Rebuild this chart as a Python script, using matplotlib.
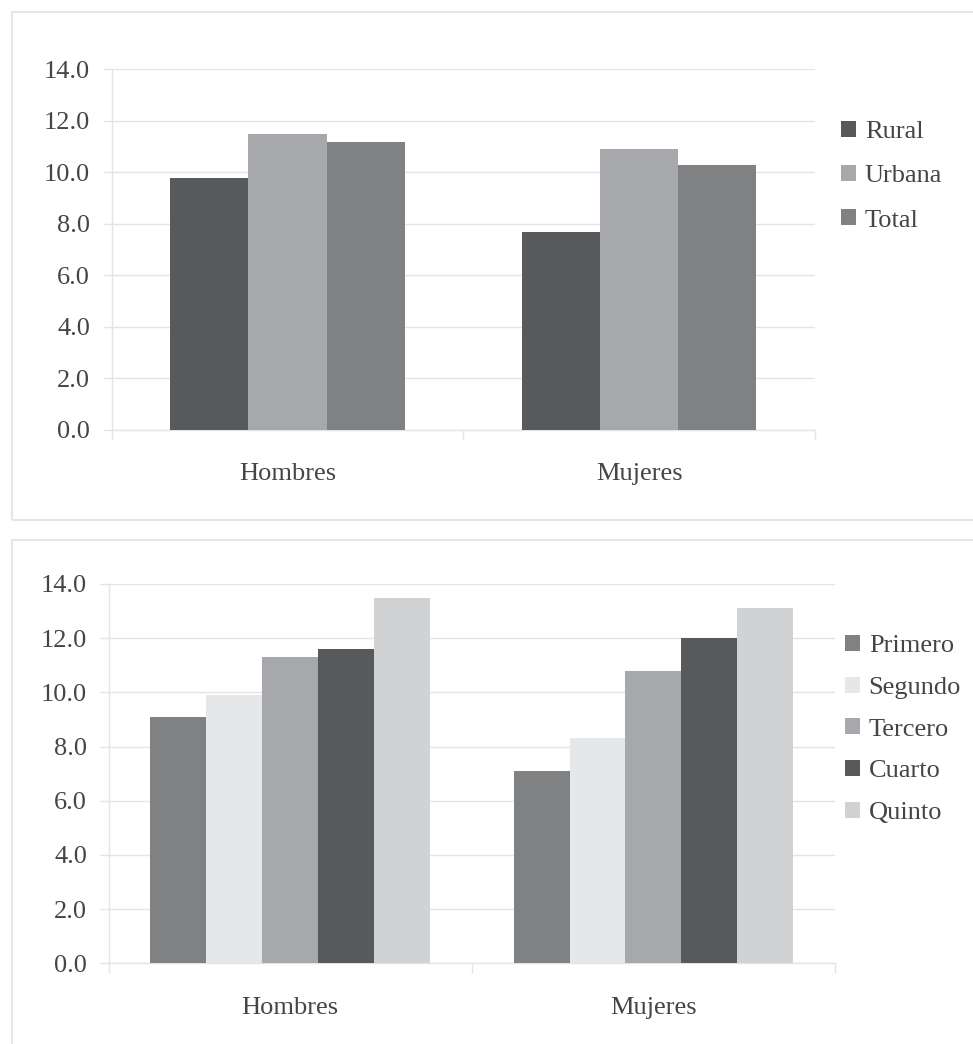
import numpy as np
import matplotlib
matplotlib.use("Agg")
import matplotlib.pyplot as plt
from matplotlib.patches import Patch, Rectangle

plt.rcParams['font.family'] = ['Liberation Serif', 'DejaVu Serif']

# data
groups = ['Hombres', 'Mujeres']

area_labels = ['Rural', 'Urbana', 'Total']
area_values = [
    [9.8, 7.7],    # Rural
    [11.5, 10.9],  # Urbana
    [11.2, 10.3],  # Total
]
area_colors = ['#58595b', '#a7a8ab', '#808183']

quint_labels = ['Primero', 'Segundo', 'Tercero', 'Cuarto', 'Quinto']
quint_values = [
    [9.1, 7.1],    # Primero
    [9.9, 8.3],    # Segundo
    [11.3, 10.8],  # Tercero
    [11.6, 12.0],  # Cuarto
    [13.5, 13.1],  # Quinto
]
quint_colors = ['#808183', '#e6e7e8', '#a7a8ab', '#58595b', '#d1d2d4']

yticks = np.arange(0, 14.1, 2)

W, H = 973, 1044
TXT = '#454545'
GRID = '#e4e4e4'
FS = 19


def px_rect(x0, y0, x1, y1):
    # pixel box (top-left origin) -> figure fraction [l, b, w, h]
    return [x0 / W, 1 - y1 / H, (x1 - x0) / W, (y1 - y0) / H]


def draw_panel(ax, labels, values, colors, bar_w, leg_anchor, leg_spacing):
    x = np.arange(len(groups))
    n = len(labels)
    for i, (lab, vals, col) in enumerate(zip(labels, values, colors)):
        off = (i - (n - 1) / 2) * bar_w
        ax.bar(x + off, vals, width=bar_w, color=col, label=lab, zorder=3)

    ax.set_xlim(-0.5, len(groups) - 0.5)
    ax.set_ylim(0, 14)
    ax.set_yticks(yticks)
    ax.set_yticklabels([f'{v:.1f}' for v in yticks])
    ax.set_xticks(x)
    ax.set_xticklabels(groups)
    ax.set_xticks(np.arange(-0.5, len(groups)), minor=True)

    ax.grid(axis='y', color=GRID, lw=1.0, zorder=0)
    for s in ['top', 'right']:
        ax.spines[s].set_visible(False)
    for s in ['left', 'bottom']:
        ax.spines[s].set_color(GRID)
        ax.spines[s].set_linewidth(1.0)

    ax.tick_params(axis='y', length=6.5, width=1.0, color=GRID, pad=9,
                   labelsize=FS, labelcolor=TXT)
    ax.tick_params(axis='x', which='major', length=0, pad=24,
                   labelsize=FS, labelcolor=TXT)
    ax.tick_params(axis='x', which='minor', length=7, width=1.0, color=GRID)

    handles = [Patch(facecolor=c, edgecolor='none') for c in colors]
    leg = ax.legend(handles, labels, loc='upper left', bbox_to_anchor=leg_anchor,
                    bbox_transform=fig.transFigure, frameon=False, fontsize=FS,
                    handlelength=0.55, handleheight=0.55, handletextpad=0.35,
                    labelspacing=leg_spacing, borderpad=0, borderaxespad=0)
    for t in leg.get_texts():
        t.set_color(TXT)


fig = plt.figure(figsize=(W / 100, H / 100), dpi=100)
fig.patch.set_facecolor('white')

# panel frames
fig.patches.append(Rectangle((12 / W, 1 - 520 / H), 1.0, (520 - 12) / H,
                             transform=fig.transFigure, fill=False,
                             edgecolor='#e6e6e6', lw=1.5))
fig.patches.append(Rectangle((12 / W, -0.05), 1.0, 0.05 + 1 - 540 / H,
                             transform=fig.transFigure, fill=False,
                             edgecolor='#e6e6e6', lw=1.5))

ax1 = fig.add_axes(px_rect(111.7, 69.5, 815, 430))
draw_panel(ax1, area_labels, area_values, area_colors, 0.222,
           (841 / W, 1 - 121 / H), 0.83)

ax2 = fig.add_axes(px_rect(108.6, 584, 835, 963.3))
draw_panel(ax2, quint_labels, quint_values, quint_colors, 0.154,
           (845 / W, 1 - 635 / H), 0.735)

fig.savefig('out.png', dpi=100, facecolor='white')
